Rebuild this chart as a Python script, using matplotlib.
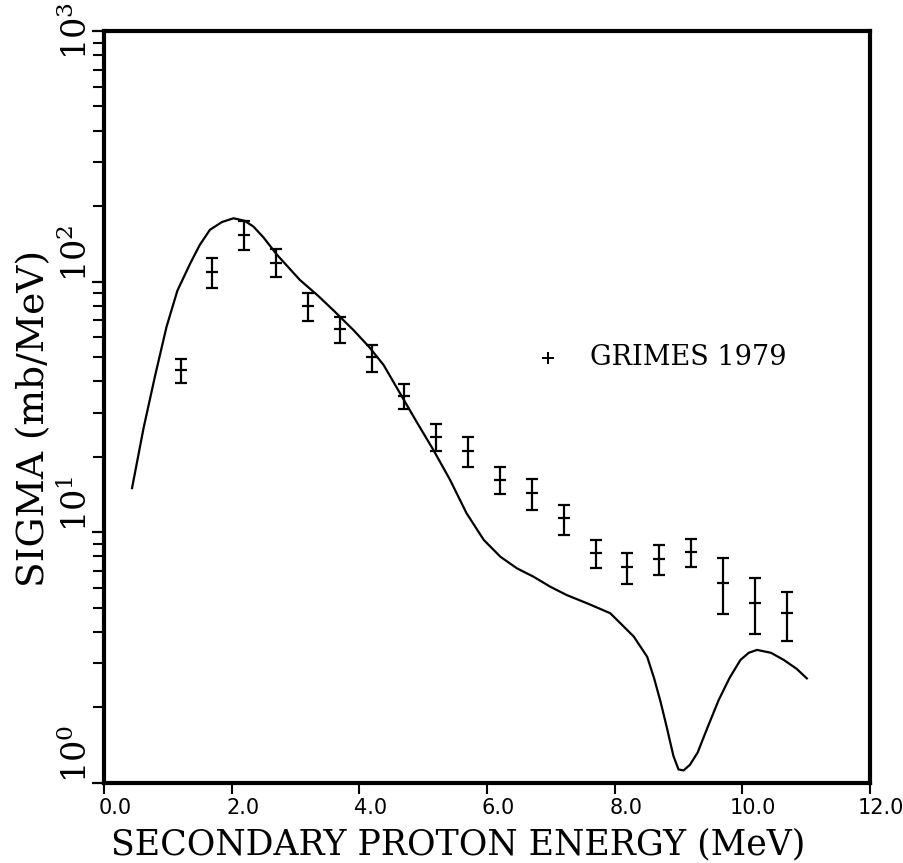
import matplotlib
matplotlib.use("Agg")
import matplotlib.pyplot as plt
import matplotlib.transforms as mtransforms
from matplotlib.ticker import FixedLocator, LogLocator, NullFormatter

plt.rcParams["mathtext.fontset"] = "dejavuserif"

# calculated curve
curve_x = [0.44, 0.62, 0.80, 0.98, 1.15, 1.35, 1.50, 1.66, 1.85, 2.03, 2.20, 2.34, 2.50,
           2.71, 3.07, 3.35, 3.59, 3.91, 4.15, 4.38, 4.69, 4.90, 5.16, 5.42, 5.68, 5.95,
           6.21, 6.47, 6.73, 6.99, 7.25, 7.57, 7.93, 8.09, 8.30, 8.51, 8.62, 8.72,
           8.82, 8.92, 9.00, 9.08, 9.18, 9.30, 9.45, 9.63, 9.80, 9.97, 10.10, 10.23,
           10.45, 10.65, 10.85, 11.01]
curve_y = [15.0, 26.0, 42.0, 66.0, 92.0, 118.0, 140.0, 161.0, 173.0, 179.0, 175.0, 166.0, 150.0,
           128.0, 101.5, 88.0, 77.0, 64.0, 55.0, 46.5, 34.0, 27.5, 21.3, 16.2, 11.9, 9.31,
           7.98, 7.17, 6.64, 6.06, 5.61, 5.20, 4.75, 4.33, 3.83, 3.18, 2.60, 2.10,
           1.65, 1.28, 1.13, 1.12, 1.18, 1.32, 1.65, 2.14, 2.62, 3.09, 3.30, 3.39,
           3.30, 3.09, 2.85, 2.61]

# GRIMES 1979 data
grimes_x = [1.2, 1.7, 2.2, 2.7, 3.2, 3.7, 4.2, 4.7, 5.2, 5.7,
            6.2, 6.7, 7.2, 7.7, 8.2, 8.7, 9.2, 9.7, 10.2, 10.7]
grimes_y = [44.4, 109.0, 153.6, 119.0, 80.0, 64.7, 50.1, 35.0, 24.0, 21.1,
            16.2, 14.3, 11.4, 8.26, 7.26, 7.82, 8.34, 6.27, 5.22, 4.76]
grimes_hi = [49.1, 124.3, 175.2, 135.0, 90.1, 72.5, 55.9, 39.0, 27.0, 24.0,
             18.2, 16.3, 12.8, 9.3, 8.26, 8.89, 9.39, 7.89, 6.57, 5.77]
grimes_lo = [39.4, 94.4, 133.8, 104.4, 69.7, 56.9, 43.6, 31.0, 21.1, 18.2,
             14.2, 12.3, 9.7, 7.2, 6.21, 6.75, 7.26, 4.72, 3.92, 3.68]

x_ticks = [0, 2, 4, 6, 8, 10, 12]
x_tick_labels = ["0.0", "2.0", "4.0", "6.0", "8.0", "10.0", "12.0"]
y_ticks = [1, 10, 100, 1000]
y_tick_labels = [r"$10^{0}$", r"$10^{1}$", r"$10^{2}$", r"$10^{3}$"]

fig = plt.figure(figsize=(9.04, 8.63), dpi=100)
ax = fig.add_axes([0.115, 0.093, 0.8474, 0.871])

ax.plot(curve_x, curve_y, color="black", lw=1.6)

yerr = [[y - lo for y, lo in zip(grimes_y, grimes_lo)],
        [hi - y for y, hi in zip(grimes_y, grimes_hi)]]
ax.errorbar(grimes_x, grimes_y, yerr=yerr, fmt="_", ms=9, mew=1.6,
            color="black", ecolor="black", elinewidth=1.6, capsize=4.5, capthick=1.6)

# legend
ax.plot([6.96], [49.6], marker="+", ms=9, mew=1.4, color="black")
ax.text(7.62, 49.6, "GRIMES 1979", family="DejaVu Serif", fontsize=19.5,
        va="center", ha="left")

ax.set_yscale("log")
ax.set_xlim(0, 12)
ax.set_ylim(1, 1000)

ax.xaxis.set_major_locator(FixedLocator(x_ticks))
ax.set_xticklabels(x_tick_labels, family="DejaVu Sans", fontsize=15, weight="medium")
ax.yaxis.set_major_locator(FixedLocator(y_ticks))
ax.yaxis.set_minor_locator(LogLocator(base=10, subs=range(2, 10)))
ax.yaxis.set_minor_formatter(NullFormatter())
ax.set_yticklabels(y_tick_labels, fontsize=24)

ax.tick_params(axis="x", which="major", direction="out", length=8, width=1.5, pad=3)
ax.tick_params(axis="y", which="major", direction="out", length=9, width=1.6, pad=-2)
ax.tick_params(axis="y", which="minor", direction="out", length=8, width=1.5)

shift = mtransforms.ScaledTranslation(11 / 100, 0, fig.dpi_scale_trans)
for lbl in ax.get_xticklabels():
    lbl.set_transform(lbl.get_transform() + shift)

for i, lbl in enumerate(ax.get_yticklabels()):
    lbl.set_rotation(90)
    lbl.set_rotation_mode("anchor")
    lbl.set_va("bottom")
    lbl.set_ha("center" if i == len(y_ticks) - 1 else "left")

for side in ["left", "right", "top", "bottom"]:
    ax.spines[side].set_linewidth(3.0)

ax.set_xlabel("SECONDARY PROTON ENERGY (MeV)", family="DejaVu Serif", fontsize=25,
              labelpad=2)
ax.xaxis.set_label_coords(0.462, -0.06)
ax.set_ylabel("SIGMA (mb/MeV)", family="DejaVu Serif", fontsize=27, labelpad=8)
ax.yaxis.set_label_coords(-0.068, 0.485)

fig.savefig("out.png", dpi=100)
